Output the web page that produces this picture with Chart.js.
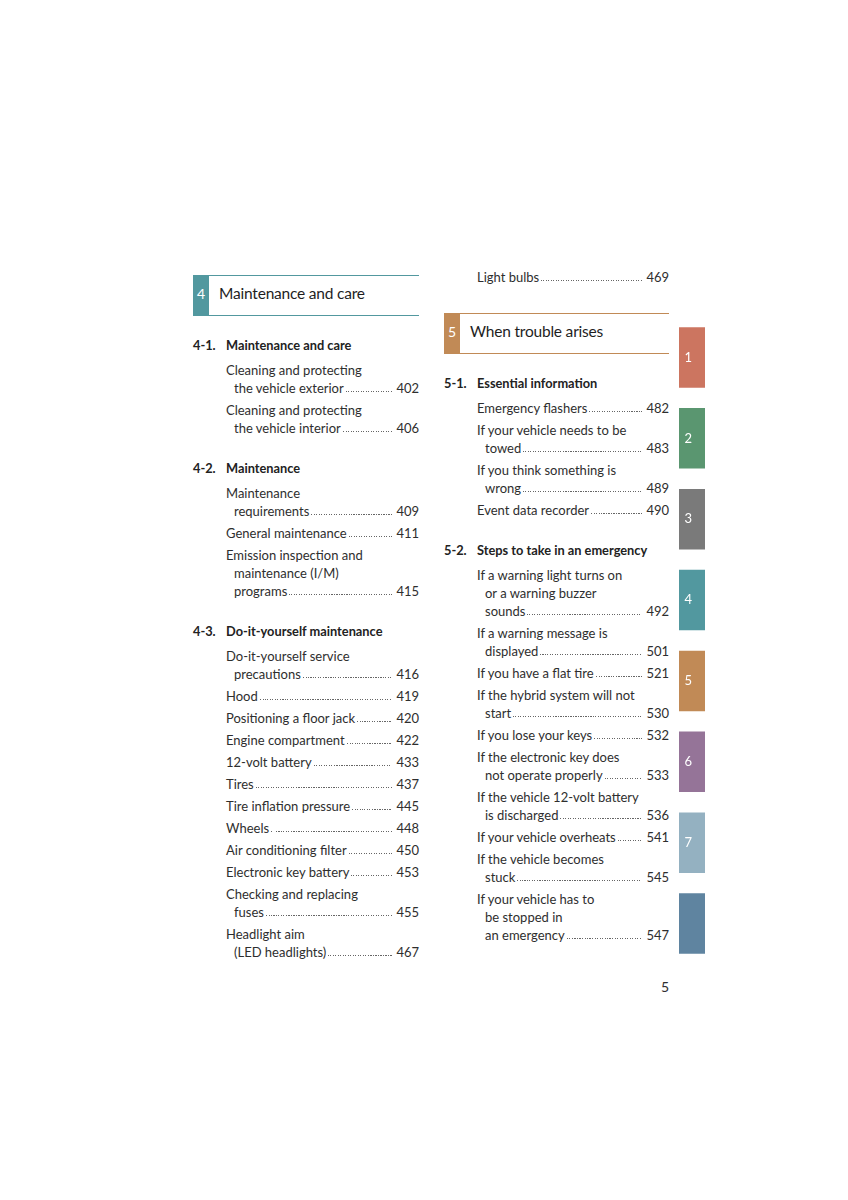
<!DOCTYPE html>
<html>
<head>
<meta charset="utf-8">
<script src="https://cdn.jsdelivr.net/npm/chart.js@4.4.0/dist/chart.umd.min.js"></script>
<style>
  body { margin: 0; background: #fff; width: 848px; height: 1200px; position: relative; overflow: hidden;
         font-family: Lato, "Open Sans", sans-serif; color: #2e2e2e; }
  .col { position: absolute; width: 226px; }
  .hdr { position: relative; height: 39px; border-top: 1px solid; border-bottom: 1px solid; }
  .hdr .num { position: absolute; left: 0; top: -1px; bottom: -1px; width: 16px; color: #fff;
              font-size: 14px; line-height: 38px; text-align: center; }
  .hdr .ttl { position: absolute; left: 26px; top: 0; line-height: 35px; font-size: 15.5px; color: #1e1e1e;
              letter-spacing: -0.2px; }
  .sec { display: flex; line-height: 18px; font-size: 12.8px; font-weight: 700; margin: 22px 0 7px; color: #222; }
  .hdr + .sec { margin-top: 20px; }
  .sec .sn { width: 33px; }
  .ent { margin-top: 4px; font-size: 13px; line-height: 18px; }
  .ln { padding-left: 33px; white-space: nowrap; height: 18px; }
  .ln.c { padding-left: 41px; }
  .last { display: flex; align-items: baseline; }
  .dots { flex: 1; min-width: 0; height: 1px; position: relative; top: -1px; margin: 0 4px 0 2px;
          background: repeating-linear-gradient(to right, #666 0 1px, transparent 1px 2.5px); }
  #pageNo { position: absolute; right: 179px; top: 978px; font-size: 14px; line-height: 18px; }
  #tabs { position: absolute; left: 679px; top: 317px; }
</style>
</head>
<body>
<div class="col" id="left" style="left:193px; top:275px;"></div>
<div class="col" id="right" style="left:444px; top:264px; width:225px;"></div>
<div id="pageNo">5</div>
<canvas id="tabs" width="26" height="647"></canvas>

<script>
// side tabs
const tabLabels = ['1', '2', '3', '4', '5', '6', '7', ''];
const tabValues = [1, 1, 1, 1, 1, 1, 1, 1];
const tabColors = ['#cc7560', '#5a9670', '#7a7a7a', '#52989f', '#c18a56', '#957498', '#94b1c1', '#5f84a0'];

// table of contents
const leftHeader = { num: '4', title: 'Maintenance and care' };
const leftSections = [
  { num: '4-1.', title: 'Maintenance and care', entries: [
    { lines: ['Cleaning and protecting', 'the vehicle exterior'], page: '402' },
    { lines: ['Cleaning and protecting', 'the vehicle interior'], page: '406' }
  ]},
  { num: '4-2.', title: 'Maintenance', entries: [
    { lines: ['Maintenance', 'requirements'], page: '409' },
    { lines: ['General maintenance'], page: '411' },
    { lines: ['Emission inspection and', 'maintenance (I/M)', 'programs'], page: '415' }
  ]},
  { num: '4-3.', title: 'Do-it-yourself maintenance', entries: [
    { lines: ['Do-it-yourself service', 'precautions'], page: '416' },
    { lines: ['Hood'], page: '419' },
    { lines: ['Positioning a floor jack'], page: '420' },
    { lines: ['Engine compartment'], page: '422' },
    { lines: ['12-volt battery'], page: '433' },
    { lines: ['Tires'], page: '437' },
    { lines: ['Tire inflation pressure'], page: '445' },
    { lines: ['Wheels'], page: '448' },
    { lines: ['Air conditioning filter'], page: '450' },
    { lines: ['Electronic key battery'], page: '453' },
    { lines: ['Checking and replacing', 'fuses'], page: '455' },
    { lines: ['Headlight aim', '(LED headlights)'], page: '467' }
  ]}
];
const rightCarry = [{ lines: ['Light bulbs'], page: '469' }];
const rightHeader = { num: '5', title: 'When trouble arises' };
const rightSections = [
  { num: '5-1.', title: 'Essential information', entries: [
    { lines: ['Emergency flashers'], page: '482' },
    { lines: ['If your vehicle needs to be', 'towed'], page: '483' },
    { lines: ['If you think something is', 'wrong'], page: '489' },
    { lines: ['Event data recorder'], page: '490' }
  ]},
  { num: '5-2.', title: 'Steps to take in an emergency', entries: [
    { lines: ['If a warning light turns on', 'or a warning buzzer', 'sounds'], page: '492' },
    { lines: ['If a warning message is', 'displayed'], page: '501' },
    { lines: ['If you have a flat tire'], page: '521' },
    { lines: ['If the hybrid system will not', 'start'], page: '530' },
    { lines: ['If you lose your keys'], page: '532' },
    { lines: ['If the electronic key does', 'not operate properly'], page: '533' },
    { lines: ['If the vehicle 12-volt battery', 'is discharged'], page: '536' },
    { lines: ['If your vehicle overheats'], page: '541' },
    { lines: ['If the vehicle becomes', 'stuck'], page: '545' },
    { lines: ['If your vehicle has to', 'be stopped in', 'an emergency'], page: '547' }
  ]}
];

function entryEl(e) {
  const d = document.createElement('div');
  d.className = 'ent';
  e.lines.forEach((t, i) => {
    const last = i === e.lines.length - 1;
    const l = document.createElement('div');
    l.className = 'ln' + (i > 0 ? ' c' : '') + (last ? ' last' : '');
    if (last) {
      l.innerHTML = `<span>${t}</span><span class="dots"></span><span>${e.page}</span>`;
    } else {
      l.textContent = t;
    }
    d.appendChild(l);
  });
  return d;
}

function headerEl(h, color) {
  const d = document.createElement('div');
  d.className = 'hdr';
  d.style.borderColor = color;
  d.innerHTML = `<div class="num" style="background:${color}">${h.num}</div><div class="ttl">${h.title}</div>`;
  return d;
}

function sectionEls(col, sections) {
  sections.forEach(s => {
    const h = document.createElement('div');
    h.className = 'sec';
    h.innerHTML = `<span class="sn">${s.num}</span><span>${s.title}</span>`;
    col.appendChild(h);
    s.entries.forEach(e => col.appendChild(entryEl(e)));
  });
}

const left = document.getElementById('left');
left.appendChild(headerEl(leftHeader, tabColors[3]));
sectionEls(left, leftSections);

const right = document.getElementById('right');
rightCarry.forEach(e => right.appendChild(entryEl(e)));
const rh = headerEl(rightHeader, tabColors[4]);
rh.style.marginTop = '27px';
right.appendChild(rh);
sectionEls(right, rightSections);

// numbers on the side tabs
const tabNumbers = {
  id: 'tabNumbers',
  afterDatasetsDraw(chart) {
    const ctx = chart.ctx;
    const meta = chart.getDatasetMeta(0);
    ctx.save();
    ctx.fillStyle = '#fff';
    ctx.font = '13px Lato';
    ctx.textAlign = 'center';
    ctx.textBaseline = 'middle';
    meta.data.forEach((bar, i) => {
      ctx.fillText(tabLabels[i], bar.base + (bar.x - bar.base) * 0.36, bar.y);
    });
    ctx.restore();
  }
};

new Chart(document.getElementById('tabs'), {
  type: 'bar',
  data: {
    labels: tabLabels,
    datasets: [{
      data: tabValues,
      backgroundColor: tabColors,
      borderWidth: 0,
      barPercentage: 0.748,
      categoryPercentage: 1
    }]
  },
  options: {
    indexAxis: 'y',
    responsive: false,
    animation: false,
    events: [],
    layout: { padding: 0 },
    plugins: { legend: { display: false }, tooltip: { enabled: false } },
    scales: {
      x: { display: false, min: 0, max: 1 },
      y: { display: false }
    }
  },
  plugins: [tabNumbers]
});
</script>
</body>
</html>
